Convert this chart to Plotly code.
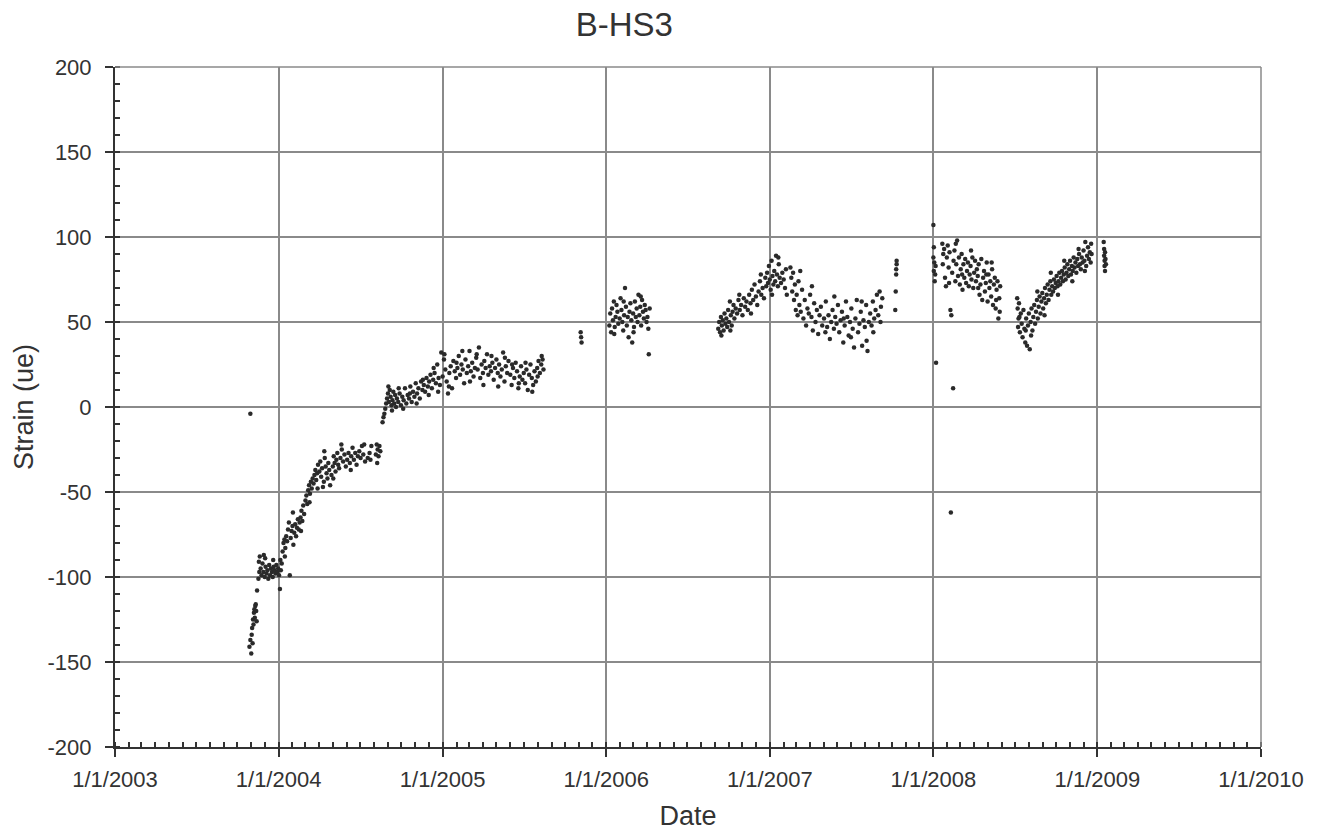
import plotly.graph_objects as go

# Strain gauge B-HS3 readings, grouped by logging period: (date, strain in ue)
early_outlier = [("2003-10-30", -4)]

period_2003_2004 = [
    ("2003-10-28", -141), ("2003-10-30", -137), ("2003-11-01", -145), ("2003-11-02", -134),
    ("2003-11-03", -130), ("2003-11-04", -139), ("2003-11-05", -125), ("2003-11-06", -128),
    ("2003-11-07", -121), ("2003-11-08", -119), ("2003-11-09", -124), ("2003-11-10", -117),
    ("2003-11-11", -116), ("2003-11-12", -120), ("2003-11-13", -126), ("2003-11-14", -108),
    ("2003-11-17", -101), ("2003-11-18", -91), ("2003-11-19", -97), ("2003-11-20", -88),
    ("2003-11-22", -95), ("2003-11-24", -99), ("2003-11-26", -92), ("2003-11-28", -97),
    ("2003-11-29", -87), ("2003-12-01", -100), ("2003-12-02", -89), ("2003-12-03", -94),
    ("2003-12-05", -98), ("2003-12-07", -96), ("2003-12-09", -101), ("2003-12-11", -93),
    ("2003-12-13", -99), ("2003-12-15", -95), ("2003-12-17", -97), ("2003-12-19", -100),
    ("2003-12-20", -90), ("2003-12-21", -94), ("2003-12-23", -96), ("2003-12-25", -98),
    ("2003-12-27", -93), ("2003-12-29", -97), ("2003-12-31", -95), ("2004-01-02", -99),
    ("2004-01-04", -107), ("2004-01-05", -90), ("2004-01-06", -96), ("2004-01-08", -92),
    ("2004-01-10", -85), ("2004-01-12", -80), ("2004-01-14", -78), ("2004-01-15", -88),
    ("2004-01-16", -83), ("2004-01-18", -76), ("2004-01-20", -79), ("2004-01-22", -72),
    ("2004-01-24", -68), ("2004-01-26", -99), ("2004-01-28", -77), ("2004-01-30", -73),
    ("2004-02-01", -70), ("2004-02-02", -62), ("2004-02-03", -81), ("2004-02-05", -74),
    ("2004-02-07", -69), ("2004-02-09", -76), ("2004-02-11", -71), ("2004-02-13", -66),
    ("2004-02-15", -72), ("2004-02-17", -68), ("2004-02-19", -65), ("2004-02-20", -73),
    ("2004-02-21", -61), ("2004-02-23", -67), ("2004-02-25", -58), ("2004-02-27", -63),
    ("2004-03-01", -55), ("2004-03-03", -52), ("2004-03-05", -57), ("2004-03-07", -49),
    ("2004-03-09", -46), ("2004-03-10", -56), ("2004-03-11", -51), ("2004-03-13", -44),
    ("2004-03-15", -48), ("2004-03-17", -42), ("2004-03-19", -45), ("2004-03-21", -40),
    ("2004-03-23", -37), ("2004-03-25", -43), ("2004-03-27", -39), ("2004-03-28", -48),
    ("2004-03-29", -34), ("2004-04-01", -38), ("2004-04-03", -32), ("2004-04-05", -41),
    ("2004-04-07", -36), ("2004-04-09", -47), ("2004-04-11", -44), ("2004-04-12", -26),
    ("2004-04-13", -30), ("2004-04-15", -35), ("2004-04-17", -39), ("2004-04-19", -42),
    ("2004-04-21", -33), ("2004-04-23", -37), ("2004-04-25", -46), ("2004-04-28", -40),
    ("2004-05-01", -35), ("2004-05-02", -42), ("2004-05-03", -29), ("2004-05-05", -33),
    ("2004-05-07", -38), ("2004-05-09", -31), ("2004-05-11", -27), ("2004-05-13", -34),
    ("2004-05-15", -36), ("2004-05-18", -30), ("2004-05-20", -22), ("2004-05-21", -25),
    ("2004-05-24", -32), ("2004-05-27", -28), ("2004-05-30", -35), ("2004-06-02", -31),
    ("2004-06-05", -27), ("2004-06-08", -33), ("2004-06-10", -37), ("2004-06-11", -29),
    ("2004-06-14", -24), ("2004-06-17", -31), ("2004-06-20", -27), ("2004-06-23", -34),
    ("2004-06-26", -29), ("2004-06-29", -26), ("2004-07-02", -30), ("2004-07-05", -23),
    ("2004-07-08", -28), ("2004-07-10", -22), ("2004-07-12", -32), ("2004-07-18", -30),
    ("2004-07-22", -27), ("2004-07-24", -31), ("2004-07-26", -23), ("2004-08-05", -28),
    ("2004-08-07", -22), ("2004-08-08", -33), ("2004-08-09", -25), ("2004-08-11", -29),
    ("2004-08-13", -23), ("2004-08-15", -26),
]

period_2004_2005 = [
    ("2004-08-20", -9), ("2004-08-22", -6), ("2004-08-24", -4), ("2004-08-26", -1),
    ("2004-08-28", 2), ("2004-08-30", 5), ("2004-09-01", 8), ("2004-09-02", 12),
    ("2004-09-03", 3), ("2004-09-05", 10), ("2004-09-07", 6), ("2004-09-09", 1),
    ("2004-09-10", -2), ("2004-09-11", 4), ("2004-09-13", 9), ("2004-09-15", 2),
    ("2004-09-17", 7), ("2004-09-19", 0), ("2004-09-21", 5), ("2004-09-24", 3),
    ("2004-09-25", 11), ("2004-09-27", 8), ("2004-09-30", 1), ("2004-10-03", 6),
    ("2004-10-05", -1), ("2004-10-06", 4), ("2004-10-09", 11), ("2004-10-12", 2),
    ("2004-10-15", 7), ("2004-10-18", 5), ("2004-10-20", 8), ("2004-10-21", 12),
    ("2004-10-24", 3), ("2004-10-27", 9), ("2004-10-30", 6), ("2004-11-02", 14),
    ("2004-11-04", 2), ("2004-11-05", 8), ("2004-11-08", 11), ("2004-11-11", 5),
    ("2004-11-14", 15), ("2004-11-17", 10), ("2004-11-18", 16), ("2004-11-20", 13),
    ("2004-11-23", 9), ("2004-11-26", 17), ("2004-11-29", 12), ("2004-12-01", 7),
    ("2004-12-02", 15), ("2004-12-05", 19), ("2004-12-08", 11), ("2004-12-11", 16),
    ("2004-12-12", 23), ("2004-12-14", 20), ("2004-12-17", 14), ("2004-12-20", 25),
    ("2004-12-22", 9), ("2004-12-23", 17), ("2004-12-26", 13), ("2004-12-29", 32),
    ("2005-01-01", 18), ("2005-01-04", 28), ("2005-01-05", 31), ("2005-01-07", 22),
    ("2005-01-10", 15), ("2005-01-13", 8), ("2005-01-15", 12), ("2005-01-16", 20),
    ("2005-01-19", 24), ("2005-01-22", 11), ("2005-01-25", 27), ("2005-01-28", 21),
    ("2005-01-31", 17), ("2005-02-01", 26), ("2005-02-03", 23), ("2005-02-06", 30),
    ("2005-02-09", 19), ("2005-02-12", 25), ("2005-02-14", 33), ("2005-02-15", 22),
    ("2005-02-18", 14), ("2005-02-21", 28), ("2005-02-24", 20), ("2005-02-27", 24),
    ("2005-03-02", 33), ("2005-03-03", 15), ("2005-03-05", 21), ("2005-03-08", 26),
    ("2005-03-11", 18), ("2005-03-14", 23), ("2005-03-17", 29), ("2005-03-18", 31),
    ("2005-03-20", 22), ("2005-03-23", 35), ("2005-03-26", 17), ("2005-03-29", 25),
    ("2005-04-01", 20), ("2005-04-02", 13), ("2005-04-04", 27), ("2005-04-07", 23),
    ("2005-04-10", 31), ("2005-04-13", 19), ("2005-04-16", 24), ("2005-04-19", 21),
    ("2005-04-20", 30), ("2005-04-22", 26), ("2005-04-25", 16), ("2005-04-28", 23),
    ("2005-05-01", 28), ("2005-05-04", 20), ("2005-05-05", 12), ("2005-05-07", 25),
    ("2005-05-10", 18), ("2005-05-13", 22), ("2005-05-16", 32), ("2005-05-19", 15),
    ("2005-05-20", 29), ("2005-05-22", 24), ("2005-05-25", 20), ("2005-05-28", 27),
    ("2005-06-01", 19), ("2005-06-04", 13), ("2005-06-05", 25), ("2005-06-07", 23),
    ("2005-06-10", 17), ("2005-06-13", 26), ("2005-06-16", 21), ("2005-06-19", 11),
    ("2005-06-20", 14), ("2005-06-22", 18), ("2005-06-25", 24), ("2005-06-28", 16),
    ("2005-07-01", 20), ("2005-07-04", 14), ("2005-07-05", 26), ("2005-07-07", 22),
    ("2005-07-10", 10), ("2005-07-13", 19), ("2005-07-16", 25), ("2005-07-19", 17),
    ("2005-07-20", 9), ("2005-07-22", 13), ("2005-07-25", 21), ("2005-07-28", 15),
    ("2005-07-31", 23), ("2005-08-01", 18), ("2005-08-03", 27), ("2005-08-06", 20),
    ("2005-08-09", 25), ("2005-08-10", 30), ("2005-08-12", 28), ("2005-08-14", 22),
]

period_late_2005 = [("2005-11-05", 44), ("2005-11-06", 41), ("2005-11-07", 38)]

period_2006 = [
    ("2006-01-08", 48), ("2006-01-10", 55), ("2006-01-12", 44), ("2006-01-14", 58),
    ("2006-01-16", 51), ("2006-01-18", 62), ("2006-01-19", 43), ("2006-01-20", 47),
    ("2006-01-22", 53), ("2006-01-24", 60), ("2006-01-26", 56), ("2006-01-28", 49),
    ("2006-01-31", 52), ("2006-02-02", 64), ("2006-02-04", 57), ("2006-02-06", 50),
    ("2006-02-08", 45), ("2006-02-09", 62), ("2006-02-10", 54), ("2006-02-12", 70),
    ("2006-02-14", 59), ("2006-02-16", 48), ("2006-02-18", 53), ("2006-02-20", 41),
    ("2006-02-22", 56), ("2006-02-24", 61), ("2006-02-26", 51), ("2006-02-28", 38),
    ("2006-03-02", 55), ("2006-03-03", 44), ("2006-03-04", 47), ("2006-03-06", 62),
    ("2006-03-08", 53), ("2006-03-10", 58), ("2006-03-12", 50), ("2006-03-14", 66),
    ("2006-03-16", 54), ("2006-03-18", 59), ("2006-03-19", 65), ("2006-03-20", 48),
    ("2006-03-22", 63), ("2006-03-24", 56), ("2006-03-26", 52), ("2006-03-28", 60),
    ("2006-03-30", 57), ("2006-04-01", 50), ("2006-04-03", 53), ("2006-04-05", 46),
    ("2006-04-06", 31), ("2006-04-08", 58),
]

period_2006_2007 = [
    ("2006-09-08", 46), ("2006-09-10", 50), ("2006-09-12", 44), ("2006-09-14", 53),
    ("2006-09-15", 42), ("2006-09-16", 48), ("2006-09-18", 51), ("2006-09-20", 45),
    ("2006-09-22", 55), ("2006-09-24", 49), ("2006-09-26", 52), ("2006-09-28", 47),
    ("2006-09-30", 57), ("2006-10-02", 50), ("2006-10-04", 62), ("2006-10-05", 45),
    ("2006-10-06", 54), ("2006-10-08", 48), ("2006-10-10", 56), ("2006-10-12", 60),
    ("2006-10-14", 52), ("2006-10-17", 58), ("2006-10-20", 55), ("2006-10-23", 63),
    ("2006-10-25", 66), ("2006-10-26", 57), ("2006-10-29", 60), ("2006-11-01", 54),
    ("2006-11-04", 64), ("2006-11-07", 59), ("2006-11-10", 62), ("2006-11-13", 57),
    ("2006-11-16", 66), ("2006-11-19", 61), ("2006-11-20", 55), ("2006-11-22", 69),
    ("2006-11-25", 63), ("2006-11-28", 72), ("2006-12-01", 65), ("2006-12-04", 60),
    ("2006-12-07", 68), ("2006-12-10", 74), ("2006-12-12", 78), ("2006-12-13", 66),
    ("2006-12-16", 70), ("2006-12-19", 64), ("2006-12-22", 76), ("2006-12-24", 71),
    ("2006-12-26", 79), ("2006-12-28", 73), ("2006-12-30", 83), ("2007-01-01", 75),
    ("2007-01-03", 69), ("2007-01-05", 86), ("2007-01-06", 66), ("2007-01-07", 77),
    ("2007-01-09", 72), ("2007-01-11", 80), ("2007-01-13", 74), ("2007-01-15", 89),
    ("2007-01-17", 78), ("2007-01-19", 71), ("2007-01-20", 88), ("2007-01-21", 84),
    ("2007-01-23", 76), ("2007-01-26", 73), ("2007-01-29", 79), ("2007-02-01", 75),
    ("2007-02-04", 70), ("2007-02-06", 81), ("2007-02-08", 66), ("2007-02-16", 82),
    ("2007-02-18", 76), ("2007-02-20", 68), ("2007-02-22", 79), ("2007-02-24", 63),
    ("2007-02-26", 72), ("2007-02-28", 57), ("2007-03-02", 66), ("2007-03-04", 54),
    ("2007-03-06", 74), ("2007-03-08", 60), ("2007-03-10", 80), ("2007-03-11", 56),
    ("2007-03-14", 69), ("2007-03-17", 52), ("2007-03-20", 63), ("2007-03-23", 48),
    ("2007-03-26", 58), ("2007-03-29", 55), ("2007-04-01", 66), ("2007-04-04", 53),
    ("2007-04-05", 71), ("2007-04-07", 45), ("2007-04-10", 61), ("2007-04-13", 50),
    ("2007-04-16", 57), ("2007-04-19", 43), ("2007-04-22", 54), ("2007-04-25", 59),
    ("2007-04-28", 48), ("2007-05-02", 52), ("2007-05-05", 44), ("2007-05-06", 62),
    ("2007-05-09", 47), ("2007-05-12", 54), ("2007-05-15", 40), ("2007-05-18", 50),
    ("2007-05-21", 57), ("2007-05-24", 46), ("2007-05-25", 65), ("2007-05-27", 53),
    ("2007-05-30", 49), ("2007-06-02", 60), ("2007-06-05", 44), ("2007-06-08", 51),
    ("2007-06-11", 56), ("2007-06-14", 38), ("2007-06-15", 52), ("2007-06-17", 48),
    ("2007-06-20", 62), ("2007-06-23", 53), ("2007-06-26", 42), ("2007-06-29", 50),
    ("2007-07-01", 41), ("2007-07-02", 58), ("2007-07-05", 46), ("2007-07-08", 35),
    ("2007-07-11", 52), ("2007-07-14", 63), ("2007-07-17", 44), ("2007-07-20", 49),
    ("2007-07-23", 56), ("2007-07-25", 62), ("2007-07-26", 36), ("2007-07-29", 51),
    ("2007-08-01", 47), ("2007-08-04", 60), ("2007-08-05", 39), ("2007-08-07", 33),
    ("2007-08-10", 50), ("2007-08-13", 55), ("2007-08-16", 48), ("2007-08-19", 62),
    ("2007-08-20", 44), ("2007-08-22", 52), ("2007-08-25", 57), ("2007-08-28", 66),
    ("2007-08-31", 54), ("2007-09-03", 68), ("2007-09-05", 50), ("2007-09-06", 59),
    ("2007-09-09", 64),
    ("2007-10-08", 57), ("2007-10-09", 68), ("2007-10-10", 78), ("2007-10-10", 81),
    ("2007-10-11", 84), ("2007-10-11", 86),
]

period_2008_spring = [
    ("2008-01-01", 107), ("2008-01-01", 88), ("2008-01-02", 94), ("2008-01-02", 80),
    ("2008-01-03", 85), ("2008-01-04", 74), ("2008-01-05", 78), ("2008-01-06", 83),
    ("2008-01-07", 26), ("2008-01-21", 96), ("2008-01-22", 84), ("2008-01-23", 90),
    ("2008-01-25", 93), ("2008-01-27", 76), ("2008-01-29", 71), ("2008-01-31", 88),
    ("2008-02-02", 95), ("2008-02-04", 82), ("2008-02-05", 73), ("2008-02-06", 91),
    ("2008-02-08", 57), ("2008-02-09", -62), ("2008-02-10", 54), ("2008-02-12", 79),
    ("2008-02-14", 11), ("2008-02-15", 86), ("2008-02-17", 92), ("2008-02-19", 74),
    ("2008-02-20", 96), ("2008-02-21", 84), ("2008-02-23", 98), ("2008-02-25", 77),
    ("2008-02-27", 88), ("2008-02-29", 72), ("2008-03-02", 81), ("2008-03-04", 90),
    ("2008-03-05", 78), ("2008-03-06", 69), ("2008-03-08", 84), ("2008-03-10", 76),
    ("2008-03-12", 87), ("2008-03-14", 73), ("2008-03-16", 80), ("2008-03-18", 85),
    ("2008-03-20", 71), ("2008-03-22", 78), ("2008-03-24", 83), ("2008-03-25", 92),
    ("2008-03-26", 75), ("2008-03-28", 88), ("2008-03-30", 70), ("2008-04-01", 79),
    ("2008-04-03", 86), ("2008-04-05", 74), ("2008-04-07", 81), ("2008-04-09", 77),
    ("2008-04-10", 70), ("2008-04-11", 84), ("2008-04-13", 66), ("2008-04-15", 72),
    ("2008-04-17", 87), ("2008-04-19", 63), ("2008-04-21", 76), ("2008-04-23", 80),
    ("2008-04-25", 68), ("2008-04-27", 73), ("2008-04-28", 78), ("2008-04-29", 85),
    ("2008-05-01", 62), ("2008-05-03", 78), ("2008-05-05", 70), ("2008-05-07", 74),
    ("2008-05-09", 65), ("2008-05-10", 85), ("2008-05-11", 81), ("2008-05-13", 60),
    ("2008-05-15", 72), ("2008-05-17", 76), ("2008-05-19", 58), ("2008-05-20", 63),
    ("2008-05-21", 69), ("2008-05-23", 74), ("2008-05-25", 52), ("2008-05-27", 64),
    ("2008-05-28", 56), ("2008-05-29", 71),
]

period_2008_2009 = [
    ("2008-07-06", 64), ("2008-07-07", 58), ("2008-07-08", 47), ("2008-07-09", 52),
    ("2008-07-10", 61), ("2008-07-11", 53), ("2008-07-12", 44), ("2008-07-14", 55),
    ("2008-07-16", 49), ("2008-07-18", 41), ("2008-07-20", 57), ("2008-07-22", 46),
    ("2008-07-24", 38), ("2008-07-25", 45), ("2008-07-26", 52), ("2008-07-28", 36),
    ("2008-07-30", 48), ("2008-08-01", 55), ("2008-08-03", 34), ("2008-08-05", 50),
    ("2008-08-06", 42), ("2008-08-07", 58), ("2008-08-09", 45), ("2008-08-11", 53),
    ("2008-08-13", 60), ("2008-08-15", 49), ("2008-08-17", 56), ("2008-08-19", 63),
    ("2008-08-20", 68), ("2008-08-21", 52), ("2008-08-23", 59), ("2008-08-25", 65),
    ("2008-08-27", 55), ("2008-08-29", 62), ("2008-08-31", 67), ("2008-09-02", 58),
    ("2008-09-04", 64), ("2008-09-05", 54), ("2008-09-06", 70), ("2008-09-08", 61),
    ("2008-09-10", 66), ("2008-09-12", 72), ("2008-09-14", 63), ("2008-09-16", 69),
    ("2008-09-18", 74), ("2008-09-19", 79), ("2008-09-20", 66), ("2008-09-22", 71),
    ("2008-09-24", 68), ("2008-09-26", 75), ("2008-09-28", 70), ("2008-09-30", 73),
    ("2008-10-02", 77), ("2008-10-04", 71), ("2008-10-05", 66), ("2008-10-06", 74),
    ("2008-10-08", 79), ("2008-10-10", 72), ("2008-10-12", 76), ("2008-10-14", 80),
    ("2008-10-16", 74), ("2008-10-18", 78), ("2008-10-19", 86), ("2008-10-20", 82),
    ("2008-10-22", 75), ("2008-10-24", 79), ("2008-10-26", 84), ("2008-10-28", 77),
    ("2008-10-30", 81), ("2008-11-01", 86), ("2008-11-03", 78), ("2008-11-05", 83),
    ("2008-11-06", 74), ("2008-11-07", 80), ("2008-11-09", 88), ("2008-11-11", 82),
    ("2008-11-13", 85), ("2008-11-15", 79), ("2008-11-17", 87), ("2008-11-19", 83),
    ("2008-11-20", 93), ("2008-11-21", 90), ("2008-11-23", 84), ("2008-11-25", 81),
    ("2008-11-27", 88), ("2008-11-29", 85), ("2008-12-01", 92), ("2008-12-03", 86),
    ("2008-12-04", 80), ("2008-12-05", 97), ("2008-12-07", 83), ("2008-12-09", 89),
    ("2008-12-11", 94), ("2008-12-13", 87), ("2008-12-15", 91), ("2008-12-17", 85),
    ("2008-12-18", 96), ("2008-12-19", 90),
    ("2009-01-15", 97), ("2009-01-16", 93), ("2009-01-16", 89), ("2009-01-17", 86),
    ("2009-01-17", 83), ("2009-01-18", 80), ("2009-01-18", 91), ("2009-01-19", 87),
    ("2009-01-20", 84),
]

periods = [early_outlier, period_2003_2004, period_2004_2005, period_late_2005,
           period_2006, period_2006_2007, period_2008_spring, period_2008_2009]

year_ticks = ["2003-01-01", "2004-01-01", "2005-01-01", "2006-01-01",
              "2007-01-01", "2008-01-01", "2009-01-01", "2010-01-01"]
year_labels = ["1/1/2003", "1/1/2004", "1/1/2005", "1/1/2006",
               "1/1/2007", "1/1/2008", "1/1/2009", "1/1/2010"]
strain_ticks = [-200, -150, -100, -50, 0, 50, 100, 150, 200]
strain_labels = ["-200", "-150", "-100", "-50", "0", "50", "100", "150", "200"]

dates = [d for p in periods for d, _ in p]
strain = [v for p in periods for _, v in p]

FONT = "Liberation Sans, Arial, sans-serif"
INK = "#333333"
GRID = "#8a8a8a"

fig = go.Figure()
fig.add_trace(go.Scatter(
    x=dates, y=strain, mode="markers",
    marker=dict(size=4.5, color="#2a2a2a"),
    showlegend=False,
))

fig.update_layout(
    width=1317, height=831,
    margin=dict(l=115, r=56, t=67, b=84, autoexpand=False),
    paper_bgcolor="white", plot_bgcolor="white",
    font=dict(family=FONT, color=INK),
    title=dict(text="B-HS3", font=dict(size=33, color=INK, family=FONT),
               x=0.474, xref="container", xanchor="center",
               y=0.971, yref="container", yanchor="middle"),
)

fig.update_xaxes(
    type="date", range=["2003-01-01", "2010-01-01"],
    automargin=False,
    tickvals=year_ticks, ticktext=year_labels,
    tickfont=dict(size=22, color=INK),
    ticks="outside", ticklen=8, tickwidth=2, tickcolor=INK,
    ticklabelstandoff=4,
    showline=True, linecolor=INK, linewidth=2,
    showgrid=True, gridcolor=GRID, gridwidth=1.5,
    minor=dict(dtick="M1", tick0="2003-01-01", ticks="inside", ticklen=5,
               tickwidth=1.5, tickcolor=INK, showgrid=False),
    title=dict(text="Date", font=dict(size=27, color=INK), standoff=17),
    zeroline=False,
)

fig.update_yaxes(
    range=[-200, 200],
    automargin=False,
    tickvals=strain_ticks, ticktext=strain_labels,
    tickfont=dict(size=22, color=INK),
    ticks="outside", ticklen=8, tickwidth=2, tickcolor=INK,
    ticklabelstandoff=9,
    showline=True, linecolor=INK, linewidth=2,
    showgrid=True, gridcolor=GRID, gridwidth=1.5,
    minor=dict(dtick=10, tick0=0, ticks="inside", ticklen=5, tickwidth=1.5,
               tickcolor=INK, showgrid=False),
    title=dict(text="Strain (ue)", font=dict(size=27, color=INK), standoff=6),
    zeroline=False,
)

# grey frame on the top and right edges of the plotting area
fig.add_shape(type="line", xref="paper", yref="paper", x0=0, x1=1, y0=1, y1=1,
              line=dict(color=GRID, width=1.5))
fig.add_shape(type="line", xref="paper", yref="paper", x0=1, x1=1, y0=0, y1=1,
              line=dict(color=GRID, width=1.5))

fig.write_html("out.html")
